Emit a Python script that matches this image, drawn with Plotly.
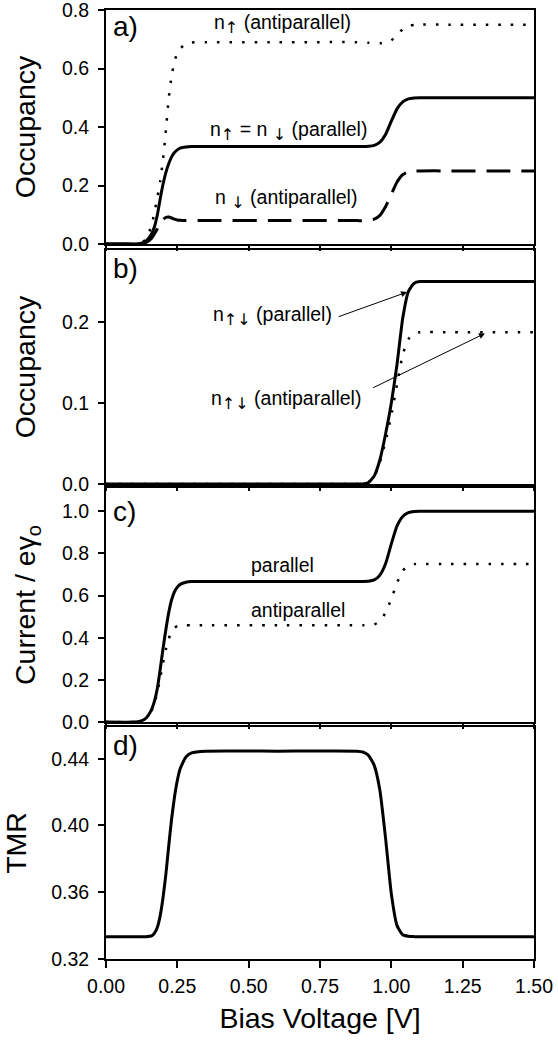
import plotly.graph_objects as go

# ---------------- data ----------------
V = [0.00, 0.10, 0.12, 0.14, 0.16, 0.17, 0.18, 0.19, 0.20, 0.21, 0.22, 0.23, 0.24, 0.25,
     0.26, 0.28, 0.30, 0.35, 0.60, 0.88, 0.90, 0.92, 0.94, 0.96, 0.98, 1.00, 1.02, 1.04,
     1.06, 1.08, 1.10, 1.20, 1.50]

# panel a
a_up_anti = [0.000, 0.000, 0.003, 0.015, 0.065, 0.110, 0.160, 0.215, 0.290, 0.390, 0.500, 0.575,
             0.625, 0.652, 0.668, 0.684, 0.689, 0.690, 0.690, 0.690, 0.689, 0.688, 0.687, 0.686,
             0.688, 0.696, 0.714, 0.735, 0.746, 0.749, 0.750, 0.750, 0.750]
a_par = [0.000, 0.000, 0.002, 0.010, 0.035, 0.060, 0.100, 0.155, 0.205, 0.245, 0.275, 0.298,
         0.313, 0.322, 0.328, 0.332, 0.333, 0.333, 0.333, 0.333, 0.333, 0.334, 0.337, 0.348,
         0.375, 0.420, 0.462, 0.486, 0.496, 0.499, 0.500, 0.500, 0.500]
a_dn_anti = [0.000, 0.000, 0.001, 0.005, 0.020, 0.035, 0.052, 0.070, 0.084, 0.091, 0.092, 0.089,
             0.085, 0.082, 0.081, 0.080, 0.080, 0.080, 0.080, 0.080, 0.080, 0.081, 0.085, 0.098,
             0.128, 0.170, 0.212, 0.237, 0.247, 0.249, 0.250, 0.250, 0.250]

# panel b
b_par = [0.000, 0.000, 0.000, 0.000, 0.000, 0.000, 0.000, 0.000, 0.000, 0.000, 0.000, 0.000,
         0.000, 0.000, 0.000, 0.000, 0.000, 0.000, 0.000, 0.000, 0.000, 0.002, 0.010, 0.030,
         0.062, 0.100, 0.148, 0.205, 0.238, 0.248, 0.250, 0.250, 0.250]
b_anti = [0.000, 0.000, 0.000, 0.000, 0.000, 0.000, 0.000, 0.000, 0.000, 0.000, 0.000, 0.000,
          0.000, 0.000, 0.000, 0.000, 0.000, 0.000, 0.000, 0.000, 0.000, 0.002, 0.009, 0.027,
          0.053, 0.085, 0.123, 0.160, 0.179, 0.186, 0.1875, 0.1875, 0.1875]

# panel c
c_par = [0.000, 0.000, 0.004, 0.018, 0.060, 0.100, 0.160, 0.250, 0.350, 0.440, 0.520, 0.580,
         0.618, 0.640, 0.653, 0.663, 0.666, 0.667, 0.667, 0.667, 0.667, 0.668, 0.674, 0.697,
         0.752, 0.845, 0.930, 0.975, 0.993, 0.999, 1.000, 1.000, 1.000]
c_anti = [0.000, 0.000, 0.004, 0.017, 0.055, 0.090, 0.140, 0.210, 0.280, 0.345, 0.395, 0.430,
          0.447, 0.455, 0.458, 0.459, 0.459, 0.459, 0.459, 0.459, 0.459, 0.460, 0.463, 0.478,
          0.520, 0.585, 0.660, 0.718, 0.742, 0.749, 0.750, 0.750, 0.750]

# panel d
d_tmr = [0.3333, 0.3333, 0.3333, 0.3333, 0.3338, 0.3355, 0.3390, 0.3460, 0.3570, 0.3710, 0.3880,
         0.4040, 0.4170, 0.4270, 0.4340, 0.4410, 0.4435, 0.4445, 0.4445, 0.4445, 0.4440, 0.4420,
         0.4360, 0.4210, 0.3920, 0.3590, 0.3400, 0.3345, 0.3336, 0.3334, 0.3333, 0.3333, 0.3333]

x_ticks = [0.0, 0.25, 0.5, 0.75, 1.0, 1.25, 1.5]
ya_ticks = [0.0, 0.2, 0.4, 0.6, 0.8]
yb_ticks = [0.0, 0.1, 0.2]
yc_ticks = [0.0, 0.2, 0.4, 0.6, 0.8, 1.0]
yd_ticks = [0.32, 0.36, 0.40, 0.44]

FONT = "Liberation Sans, Arial, sans-serif"
DOT = "2.5px,10px"
DASH = "24px,11px"

fig = go.Figure()

def line(x, y, xa, ya, dash="solid", width=3):
    fig.add_trace(go.Scatter(x=x, y=y, xaxis=xa, yaxis=ya, mode="lines",
                             line=dict(color="black", width=width, dash=dash,
                                       shape="spline", smoothing=0.5),
                             showlegend=False, hoverinfo="skip"))

line(V, a_up_anti, "x", "y", DOT, 2.5)
line(V, a_par, "x", "y")
line(V, a_dn_anti, "x", "y", DASH)
line(V, b_anti, "x2", "y2", DOT, 2.5)
line(V, b_par, "x2", "y2")
line(V, c_anti, "x3", "y3", DOT, 2.5)
line(V, c_par, "x3", "y3")
line(V, d_tmr, "x4", "y4")

domains = {
    "": [0.7534, 1.0],
    "2": [0.5005, 0.7471],
    "3": [0.2497, 0.4963],
    "4": [0.0, 0.2445],
}

tickfont = dict(family=FONT, size=19.5, color="black")
titlefont = dict(family=FONT, size=28.5, color="black")

yspecs = {
    "": dict(range=[0, 0.8], tickvals=ya_ticks, tickformat=".1f", title="Occupancy"),
    "2": dict(range=[0, 0.289], tickvals=yb_ticks, tickformat=".1f", title="Occupancy"),
    "3": dict(range=[0, 1.11], tickvals=yc_ticks, tickformat=".1f", title="Current / eγ<sub>o</sub>"),
    "4": dict(range=[0.32, 0.459], tickvals=yd_ticks, tickformat=".2f", title="TMR"),
}

layout = dict(
    width=558, height=1046,
    margin=dict(l=106, r=24, t=10, b=87, autoexpand=False),
    paper_bgcolor="white", plot_bgcolor="white",
    font=dict(family=FONT, color="black"),
)

for k in ["", "2", "3", "4"]:
    last = (k == "4")
    layout["xaxis" + k] = dict(
        domain=[0, 1], anchor="y" + k, range=[0, 1.5], tickvals=x_ticks,
        tickformat=".2f", showticklabels=last, ticks="outside", ticklen=7 if last else 5,
        tickwidth=1.5, tickcolor="black", showline=True, mirror=True, linecolor="black",
        linewidth=2, showgrid=False, zeroline=False, tickfont=tickfont,
        ticklabelstandoff=2, automargin=False, ticklabeloverflow="allow",
        title=dict(text="Bias Voltage [V]", font=titlefont, standoff=12) if last else None,
    )
    s = yspecs[k]
    layout["yaxis" + k] = dict(
        domain=domains[k], anchor="x" + k, range=s["range"], tickvals=s["tickvals"],
        tickformat=s["tickformat"], ticks="outside", ticklen=6, tickwidth=1.5,
        tickcolor="black", showline=True, mirror=True, linecolor="black", linewidth=2,
        showgrid=False, zeroline=False, tickfont=tickfont, ticklabelstandoff=5,
        automargin=False, ticklabeloverflow="allow",
        title=dict(text=s["title"], font=titlefont, standoff=18),
    )

fig.update_layout(**layout)

SPAN = "font-family:'DejaVu Sans';font-size:16px;color:black"
UP = '<sub><span style="%s">↑</span></sub>' % SPAN
DN = '<sub><span style="%s">↓</span></sub>' % SPAN
UPDN = '<sub><span style="%s">↑↓</span></sub>' % SPAN

annfont = dict(family=FONT, size=19.5, color="black")
anns = [
    dict(x=0.617, y=0.752, xref="x", yref="y", text="n" + UP + " (antiparallel)"),
    dict(x=0.638, y=0.385, xref="x", yref="y", text="n" + UP + " = n " + DN + " (parallel)"),
    dict(x=0.631, y=0.153, xref="x", yref="y", text="n " + DN + " (antiparallel)"),
    dict(x=0.582, y=0.207, xref="x2", yref="y2", text="n" + UPDN + " (parallel)"),
    dict(x=0.631, y=0.104, xref="x2", yref="y2", text="n" + UPDN + " (antiparallel)"),
    dict(x=0.62, y=0.746, xref="x3", yref="y3", text="parallel"),
    dict(x=0.674, y=0.533, xref="x3", yref="y3", text="antiparallel"),
]
for a in anns:
    fig.add_annotation(showarrow=False, font=annfont, xanchor="center", yanchor="middle", **a)

# panel labels
labfont = dict(family=FONT, size=28, color="black")
for lab, k, yy in [("a)", "", 0.93), ("b)", "2", 0.923), ("c)", "3", 0.90), ("d)", "4", 0.918)]:
    fig.add_annotation(text=lab, x=0.012, y=yy, xref=("x" + k) + " domain", yref=("y" + k) + " domain",
                       showarrow=False, xanchor="left", yanchor="middle", font=labfont)

# arrows in panel b
fig.add_annotation(x=1.055, y=0.237, ax=0.81, ay=0.206, xref="x2", yref="y2",
                   axref="x2", ayref="y2", text="", showarrow=True, arrowhead=2,
                   arrowsize=1.2, arrowwidth=1, arrowcolor="black")
fig.add_annotation(x=1.328, y=0.186, ax=0.931, ay=0.118, xref="x2", yref="y2",
                   axref="x2", ayref="y2", text="", showarrow=True, arrowhead=2,
                   arrowsize=1.2, arrowwidth=1, arrowcolor="black")

fig.write_html("out.html")
